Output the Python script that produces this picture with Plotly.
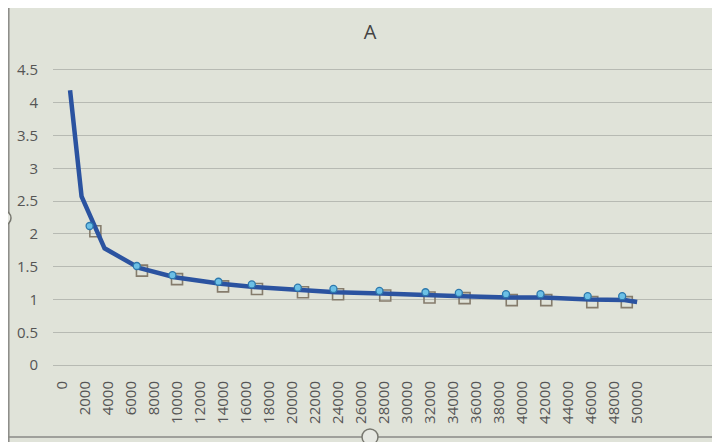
import plotly.graph_objects as go

# Data
line_x = [700, 1700, 3700, 6700, 9800, 13800, 16700, 20700, 23800, 27800, 31800,
          34800, 38800, 41800, 45900, 48900, 50000]
line_y = [4.19, 2.57, 1.78, 1.48, 1.34, 1.24, 1.19, 1.14, 1.11, 1.09, 1.06,
          1.05, 1.03, 1.03, 1.00, 0.99, 0.96]

circle_x = [2400, 6500, 9600, 13600, 16500, 20500, 23600, 27600, 31600, 34500,
            38600, 41600, 45700, 48700]
circle_y = [2.12, 1.51, 1.37, 1.27, 1.23, 1.18, 1.16, 1.13, 1.11, 1.10,
            1.08, 1.08, 1.05, 1.05]

square_x = [2900, 6950, 10000, 14000, 16950, 20950, 24000, 28100, 31950, 35000,
            39100, 42100, 46100, 49100]
square_y = [2.04, 1.44, 1.31, 1.20, 1.16, 1.11, 1.08, 1.06, 1.03, 1.02,
            0.99, 0.99, 0.96, 0.96]

x_ticks = list(range(0, 50001, 2000))
y_ticks = [0, 0.5, 1, 1.5, 2, 2.5, 3, 3.5, 4, 4.5]
y_tick_text = ["0", "0.5", "1", "1.5", "2", "2.5", "3", "3.5", "4", "4.5"]
title_text = "A"

fig = go.Figure()
fig.add_trace(go.Scatter(
    x=square_x, y=square_y, mode="markers",
    marker=dict(symbol="square-open", size=11, color="#857c6c", line=dict(width=1.6)),
    showlegend=False, hoverinfo="skip"))
fig.add_trace(go.Scatter(
    x=line_x, y=line_y, mode="lines",
    line=dict(color="#2b53a0", width=4.5),
    showlegend=False))
fig.add_trace(go.Scatter(
    x=circle_x, y=circle_y, mode="markers",
    marker=dict(symbol="circle", size=7, color="#6cc0e6",
                line=dict(color="#2c78ad", width=1.3)),
    showlegend=False))

L, T, B, W, H = 45, 60, 83, 720, 442
PW, PH = W - L, H - T - B

def px(xp):
    return (xp - L) / PW

def py(yp):
    return (H - B - yp) / PH

font_family = "Open Sans, Noto Sans, sans-serif"
fig.update_layout(
    width=W, height=H,
    margin=dict(l=L, r=0, t=T, b=B),
    paper_bgcolor="#e0e3d9",
    plot_bgcolor="#e0e3d9",
    title=dict(text=title_text, x=362 / W, xanchor="center", y=1 - 24 / H, yanchor="middle",
               font=dict(family=font_family, size=20, color="#444444")),
    xaxis=dict(range=[-783, 57900], tickvals=x_ticks, ticktext=[str(v) for v in x_ticks],
               tickangle=-90, showgrid=False, zeroline=False, showline=False,
               ticks="", ticklabelstandoff=10,
               tickfont=dict(family=font_family, size=15, color="#555555")),
    yaxis=dict(range=[-0.03, 4.53], tickvals=y_ticks, ticktext=y_tick_text,
               showgrid=True, gridcolor="#b7bab3", gridwidth=1, zeroline=False,
               showline=False, ticks="", ticklabelstandoff=14,
               tickfont=dict(family=font_family, size=15, color="#555555")),
    shapes=[
        dict(type="line", xref="paper", yref="paper", x0=px(0), x1=px(W), y0=py(429), y1=py(429),
             line=dict(color="#8a8a86", width=1.5)),
        dict(type="line", xref="paper", yref="paper", x0=px(0.8), x1=px(0.8), y0=py(H), y1=py(0),
             line=dict(color="#8a8a86", width=1.5)),
        dict(type="circle", xref="paper", yref="paper",
             x0=px(-11), x1=px(3), y0=py(217), y1=py(203),
             line=dict(color="#77776f", width=1.5), fillcolor="#e6e8e2"),
        dict(type="circle", xref="paper", yref="paper",
             x0=px(354), x1=px(370), y0=py(437), y1=py(421),
             line=dict(color="#77776f", width=1.5), fillcolor="#e6e8e2"),
    ],
)

fig.write_html("out.html")
